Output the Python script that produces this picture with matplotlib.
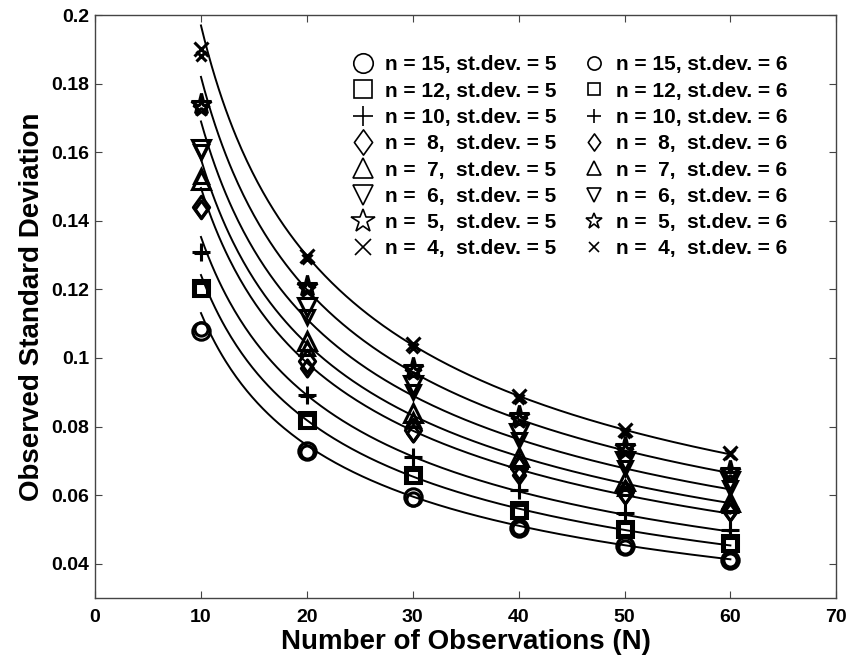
"""
Наблюдаемое стандартное отклонение в зависимости от числа наблюдений
"""

import numpy as np
import matplotlib
matplotlib.use("Agg")
import matplotlib.pyplot as plt
from matplotlib.lines import Line2D
from matplotlib.path import Path

plt.rcParams['font.family'] = ['Liberation Sans', 'DejaVu Sans']
plt.rcParams['font.weight'] = 'bold'

# Число наблюдений
N = [10, 20, 30, 40, 50, 60]

# Размеры групп n (порядок как в легенде)
groups = [15, 12, 10, 8, 7, 6, 5, 4]

# Наблюдаемые значения, st.dev. = 5
circle_sd5 = [0.1080, 0.0728, 0.0595, 0.0505, 0.0452, 0.0410]
square_sd5 = [0.1204, 0.0820, 0.0659, 0.0557, 0.0502, 0.0461]
plus_sd5 = [0.1310, 0.0892, 0.0712, 0.0616, 0.0549, 0.0499]
diamond_sd5 = [0.1440, 0.0990, 0.0790, 0.0680, 0.0610, 0.0560]
up_sd5 = [0.1520, 0.1050, 0.0840, 0.0710, 0.0640, 0.0580]
down_sd5 = [0.1610, 0.1150, 0.0920, 0.0780, 0.0700, 0.0640]
star_sd5 = [0.1740, 0.1210, 0.0970, 0.0830, 0.0740, 0.0670]
cross_sd5 = [0.1900, 0.1297, 0.1040, 0.0890, 0.0790, 0.0723]

# Наблюдаемые значения, st.dev. = 6
circle_sd6 = [0.1085, 0.0725, 0.0590, 0.0503, 0.0450, 0.0410]
square_sd6 = [0.1200, 0.0815, 0.0655, 0.0555, 0.0500, 0.0458]
plus_sd6 = [0.1305, 0.0890, 0.0710, 0.0615, 0.0545, 0.0497]
diamond_sd6 = [0.1435, 0.0970, 0.0780, 0.0660, 0.0600, 0.0550]
up_sd6 = [0.1530, 0.1030, 0.0820, 0.0700, 0.0620, 0.0570]
down_sd6 = [0.1600, 0.1120, 0.0900, 0.0760, 0.0680, 0.0620]
star_sd6 = [0.1730, 0.1200, 0.0960, 0.0820, 0.0730, 0.0660]
cross_sd6 = [0.1880, 0.1290, 0.1030, 0.0880, 0.0780, 0.0720]

# Теоретические кривые: c / sqrt(N - k), значение кривой при N = 10
curve_at10 = [0.1131, 0.1242, 0.1353, 0.1496, 0.1580, 0.1690, 0.1820, 0.1970]
curve_k = 2.32
curve_N = [10, 60]

sd5 = [circle_sd5, square_sd5, plus_sd5, diamond_sd5, up_sd5, down_sd5, star_sd5, cross_sd5]
sd6 = [circle_sd6, square_sd6, plus_sd6, diamond_sd6, up_sd6, down_sd6, star_sd6, cross_sd6]

# Ромб как в MATLAB (выше, чем шире)
diamond = Path([(0, 1), (0.72, 0), (0, -1), (-0.72, 0), (0, 1)],
               [Path.MOVETO, Path.LINETO, Path.LINETO, Path.LINETO, Path.CLOSEPOLY])
markers = ['o', 's', '+', diamond, '^', 'v', '*', 'x']
size_scale = [1.0, 0.9, 1.0, 1.3, 1.0, 1.0, 1.25, 0.8]


def main():
    fig = plt.figure(figsize=(8.49, 6.6), dpi=100)
    ax = fig.add_axes([0.112, 0.094, 0.873, 0.883])

    # Кривые
    Nc = np.linspace(curve_N[0], curve_N[1], 300)
    for c10 in curve_at10:
        c = c10 * np.sqrt(curve_N[0] - curve_k)
        ax.plot(Nc, c / np.sqrt(Nc - curve_k), 'k-', linewidth=1.4)

    # Точки
    handles = []
    labels = []
    for sd, data, ms_plot, ms_leg in [(5, sd5, 12.5, 14), (6, sd6, 9.5, 9.5)]:
        for i, n in enumerate(groups):
            m = markers[i]
            s = size_scale[i]
            ax.plot(N, data[i], linestyle='none', marker=m, markersize=ms_plot * s,
                    markerfacecolor='none', markeredgecolor='k', markeredgewidth=2.2)
            sep = ' ' if n < 10 else ''
            handles.append(Line2D([], [], linestyle='none', marker=m, markersize=ms_leg * s,
                                  markerfacecolor='none', markeredgecolor='k',
                                  markeredgewidth=1.2))
            labels.append(f'n = {sep}{n},{sep} st.dev. = {sd}')

    fig.legend(handles, labels, ncol=2, loc='upper left', bbox_to_anchor=(0.4153, 0.916),
               frameon=False, handlelength=1.0, handletextpad=0.56,
               columnspacing=1.28, labelspacing=0.35, borderpad=0, borderaxespad=0,
               prop={'weight': 'bold', 'size': 15})

    ax.set_xlim(0, 70)
    ax.set_ylim(0.03, 0.2)
    ax.set_xticks(np.arange(0, 71, 10))
    yt = [0.04, 0.06, 0.08, 0.1, 0.12, 0.14, 0.16, 0.18, 0.2]
    ax.set_yticks(yt)
    ax.set_yticklabels([f'{v:g}' for v in yt])
    ax.tick_params(direction='in', length=5, width=0.8, top=True, right=True,
                   labelsize=14, colors='#444444', labelcolor='black')
    ax.tick_params(axis='x', pad=8)
    ax.tick_params(axis='y', pad=4)
    for lab in ax.get_xticklabels() + ax.get_yticklabels():
        lab.set_fontweight('bold')
    for sp in ax.spines.values():
        sp.set_color('#444444')
        sp.set_linewidth(1.0)

    ax.set_xlabel('Number of Observations (N)', fontsize=20, fontweight='bold', labelpad=2)
    ax.set_ylabel('Observed Standard Deviation', fontsize=20, fontweight='bold', labelpad=5)

    fig.savefig('out.png', dpi=100)


if __name__ == "__main__":
    main()
